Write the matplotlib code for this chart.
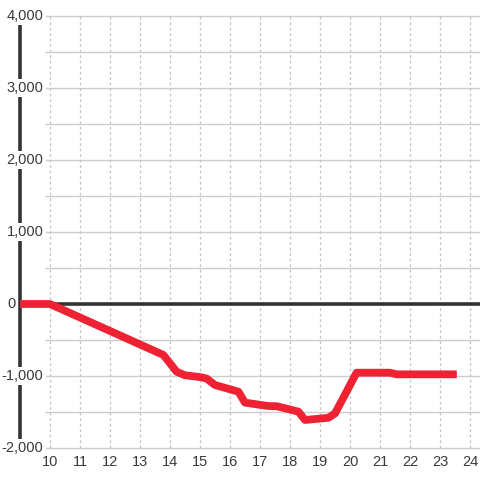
import matplotlib
matplotlib.use("Agg")
import matplotlib.pyplot as plt

hours = [9.0, 10.0, 13.78, 14.22, 14.5, 15.0, 15.22, 15.5, 16.28, 16.5, 17.28, 17.56,
         18.28, 18.5, 19.28, 19.5, 20.22, 21.33, 21.56, 23.56]
values = [0, 0, -708, -940, -990, -1015, -1035, -1125, -1218, -1370, -1417, -1420,
          -1495, -1611, -1580, -1520, -954, -954, -977, -977]

x_ticks = list(range(10, 25))
y_ticks = [-2000, -1000, 0, 1000, 2000, 3000, 4000]
y_grid = list(range(-2000, 4001, 500))
y_labels = ["-2,000", "-1,000", "0", "1,000", "2,000", "3,000", "4,000"]

plt.rcParams['font.family'] = ['Liberation Sans', 'DejaVu Sans']

fig = plt.figure(figsize=(4.8, 4.8), dpi=100)
ax = fig.add_axes([0, 0, 1, 1])
ax.set_xlim(8.3333, 24.3333)
ax.set_ylim(-2444.4, 4222.2)
ax.axis('off')

def px2x(p):
    return 9 + (p - 20) / 30.0

# horizontal grid
ax.hlines(y_grid, px2x(45), 24.3333, colors='#cccccc', linewidth=1, zorder=1)
# vertical dotted grid
ax.vlines(x_ticks, -2000, 4000, colors='#c4c4c4', linewidth=0.9,
          linestyles=(0, (2.2, 2.2)), zorder=1)
# zero line
ax.hlines([0], 9, 24.3333, colors='#333333', linewidth=2.6, zorder=2)
# vertical axis
ax.vlines([9], -2000, 4000, colors='#333333', linewidth=2.6, zorder=2)

# y labels
for v, lab in zip(y_ticks, y_labels):
    if lab == "0":
        ax.text(px2x(16), v, lab, ha='right', va='center', fontsize=10.5,
                color='#3a3a3a', zorder=5)
    else:
        ax.text(px2x(43.5), v, lab, ha='right', va='center', fontsize=10.5,
                color='#3a3a3a', zorder=5,
                bbox=dict(facecolor='white', edgecolor='none', pad=1.5))

# x labels
for t in x_ticks:
    ax.text(t, -2000 - 14 / 72 * 1000, str(t), ha='center', va='center',
            fontsize=10.5, color='#3a3a3a', zorder=5)

ax.plot(hours, values, color='#ee2233', linewidth=5.6, solid_joinstyle='round',
        solid_capstyle='butt', zorder=4)

fig.savefig("out.png", dpi=100, facecolor='white')
